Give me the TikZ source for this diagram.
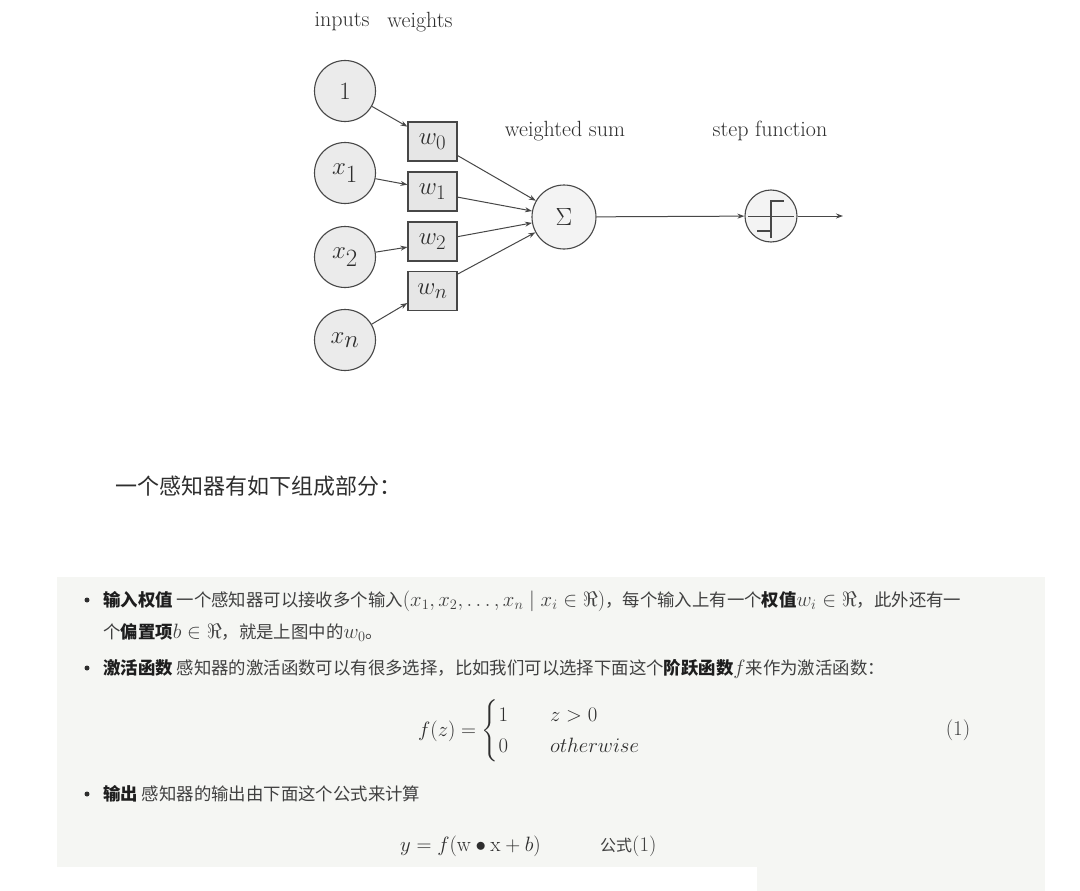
\documentclass[tikz,border=0pt]{standalone}
\usepackage{amsmath}
\usepackage{fontspec}
\newfontfamily\cjk{Noto Sans CJK SC}
\usetikzlibrary{arrows.meta,calc}
\definecolor{boxbg}{HTML}{F5F6F3}
\definecolor{nodefill}{HTML}{EBEBEB}
\definecolor{wfill}{HTML}{E6E6E6}
\definecolor{edge}{HTML}{474747}
\definecolor{ink}{HTML}{2E2E2E}
\definecolor{txtc}{HTML}{404040}
\definecolor{boldc}{HTML}{1E1E1E}
\newcommand{\mth}[1]{{\fontsize{21}{26}\selectfont$#1$}}
\newcommand{\bld}[1]{{\color{boldc}\textbf{#1}}}
\begin{document}
\begin{tikzpicture}[x=1pt,y=-1pt,
  lbl/.style={text=ink, font=\fontsize{22}{26}\selectfont, inner sep=0},
  inc/.style={circle, draw=edge, fill=nodefill, line width=1.1pt, minimum size=61pt, inner sep=0, text=ink, font=\fontsize{33}{38}\selectfont},
  wbox/.style={rectangle, draw=edge, fill=wfill, line width=1.1pt, minimum width=49pt, minimum height=39pt, inner sep=0, text=ink, font=\fontsize{30}{34}\selectfont},
  sumc/.style={circle, draw=edge, fill=nodefill!60!white, line width=1.1pt, minimum size=64pt, inner sep=0, text=ink, font=\fontsize{34}{38}\selectfont},
  stepc/.style={circle, draw=edge, fill=nodefill!60!white, line width=1.1pt, minimum size=52pt, inner sep=0},
  con/.style={draw=edge, line width=1pt, -{Stealth[length=7pt,width=5pt]}},
  stepline/.style={draw=edge, line width=1.8pt},
  axisline/.style={draw=edge, line width=0.9pt},
  line/.style={anchor=base west, inner sep=0, text=txtc, font=\cjk\fontsize{17.4}{21}\selectfont},
  bulletdot/.style={circle, fill=ink, minimum size=5pt, inner sep=0},
]
\useasboundingbox (0,0) rectangle (1080,891);
\fill[white] (0,0) rectangle (1080,891);
\fill[boxbg] (57,577) rectangle (1045,867);
\fill[boxbg] (757,867) rectangle (1045,891);

% ---- diagram labels
\node[lbl] (tin) at (342,22) {inputs};
\node[lbl] (twt) at (420,22) {weights};
\node[lbl] (tws) at (565,131) {weighted sum};
\node[lbl] (tsf) at (770,131) {step function};

% ---- input circles
\node[inc] (c1) at (345,91) {$1$};
\node[inc] (cx1) at (345,173) {$x_1$};
\node[inc] (cx2) at (345,257) {$x_2$};
\node[inc] (cxn) at (345,340) {$x_n$};

% ---- weight boxes
\node[wbox] (w0) at (432.5,141.5) {$w_0$};
\node[wbox] (w1) at (432.5,191.5) {$w_1$};
\node[wbox] (w2) at (432.5,241.5) {$w_2$};
\node[wbox] (wn) at (432.5,291) {$w_n$};

% ---- sum and step
\node[sumc] (sig) at (564,217) {$\Sigma$};
\node[stepc] (stp) at (771,216) {};
\draw[axisline] ($(stp)+(-23,0)$) -- ($(stp)+(23,0)$);
\draw[stepline] ($(stp)+(-14,15)$) -- ($(stp)+(0,15)$);
\draw[stepline] ($(stp)+(0,22)$) -- ($(stp)+(0,-15)$) -- ($(stp)+(13,-15)$);

% ---- connector end points
\coordinate (a0) at ($(w0.north west)!0.13!(w0.south west)$);
\coordinate (a1) at ($(w1.north west)!0.33!(w1.south west)$);
\coordinate (a2) at ($(w2.north west)!0.64!(w2.south west)$);
\coordinate (an) at ($(wn.north west)!0.80!(wn.south west)$);
\coordinate (b0) at ($(w0.north east)!0.85!(w0.south east)$);
\coordinate (b1) at ($(w1.north east)!0.64!(w1.south east)$);
\coordinate (b2) at ($(w2.north east)!0.38!(w2.south east)$);
\coordinate (bn) at ($(wn.north east)!0.08!(wn.south east)$);
\coordinate (out) at (843,216);

\draw[con] (c1) -- (a0);
\draw[con] (cx1) -- (a1);
\draw[con] (cx2) -- (a2);
\draw[con] (cxn) -- (an);
\draw[con] (b0) -- (sig);
\draw[con] (b1) -- (sig);
\draw[con] (b2) -- (sig);
\draw[con] (bn) -- (sig);
\draw[con] (sig) -- (stp);
\draw[con] (stp) -- (out);

% ---- text part
\node[anchor=west, inner sep=0, text=ink, font=\cjk\fontsize{22}{26}\selectfont] (hd) at (115,486) {一个感知器有如下组成部分：};

\node[bulletdot] (d1) at (87,600) {};
\node[line] (l1) at (103,606) {\bld{输入权值} 一个感知器可以接收多个输入\mth{(x_1,x_2,\ldots,x_n \mid x_i\in\Re)}，每个输入上有一个\bld{权值}\mth{w_i\in\Re}，此外还有一};
\node[line] (l2) at (103,638) {个\bld{偏置项}\mth{b\in\Re}，就是上图中的\mth{w_0}。};

\node[bulletdot] (d2) at (87,668) {};
\node[line] (l3) at (103,674) {\bld{激活函数} 感知器的激活函数可以有很多选择，比如我们可以选择下面这个\bld{阶跃函数}\mth{f}来作为激活函数：};

\node[anchor=west, inner sep=0, text=ink] (eq1) at (418,731) {\mth{f(z)=\begin{cases}1 & \quad z>0\\ 0 & \quad otherwise\end{cases}}};
\node[inner sep=0, text=txtc, font=\fontsize{21}{25}\selectfont] (eqn) at (958,730) {(1)};

\node[bulletdot] (d3) at (87,794) {};
\node[line] (l4) at (103,800) {\bld{输出} 感知器的输出由下面这个公式来计算};

\node[anchor=base west, inner sep=0, text=ink] (eq2) at (400,851) {\mth{y=f(\mathrm{w}\bullet\mathrm{x}+b)}};
\node[line, font=\cjk\fontsize{16}{20}\selectfont] (eq2n) at (600,851) {公式\mth{(1)}};
\end{tikzpicture}
\end{document}
